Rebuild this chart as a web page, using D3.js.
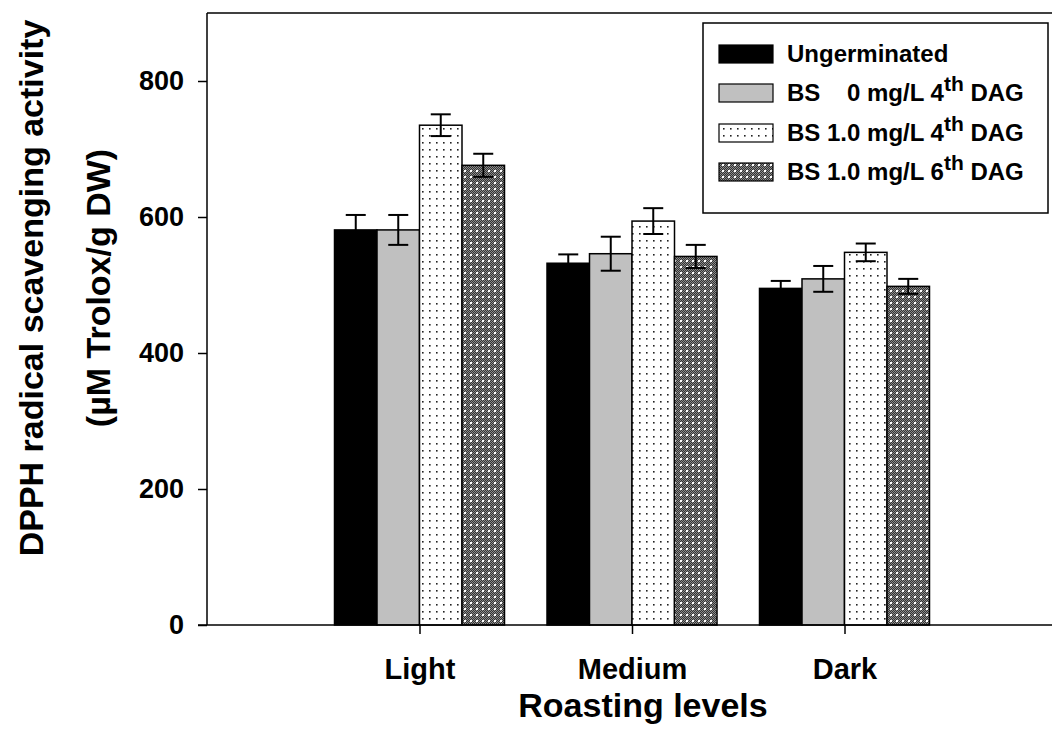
<!DOCTYPE html>
<html>
<head>
<meta charset="utf-8">
<script src="https://cdn.jsdelivr.net/npm/d3@7"></script>
<style>
  html, body { margin: 0; padding: 0; background: #fff; }
  svg { display: block; font-family: "Liberation Sans", Arial, sans-serif; font-weight: bold; }
</style>
</head>
<body>
<svg id="chart" width="1052" height="747"></svg>
<script>
// Roasting levels on the x axis
const categories = ["Light", "Medium", "Dark"];
// Treatments (one bar per treatment in each group)
const seriesNames = ["Ungerminated", "BS0_4", "BS1_4", "BS1_6"];
// Mean DPPH scavenging activity (µM Trolox/g DW), per roasting level
const ungerminated = [581, 532, 495];
const bs0day4 = [581, 546, 509];
const bs1day4 = [735, 594, 548];
const bs1day6 = [676, 542, 498];
// Standard deviations
const errUngerminated = [22, 13, 11];
const errBs0day4 = [22, 25, 19];
const errBs1day4 = [16, 19, 13];
const errBs1day6 = [17, 17, 11];
// Y axis ticks
const yTicks = [0, 200, 400, 600, 800];

const values = [ungerminated, bs0day4, bs1day4, bs1day6];
const errors = [errUngerminated, errBs0day4, errBs1day4, errBs1day6];

const svg = d3.select("#chart");
const mLeft = 207, mTop = 13, mBottom = 625, mRight = 1057;

const y = d3.scaleLinear().domain([0, 900]).range([mBottom, mTop]);
// Groups sit at positions 1..3 on a 0..4 axis
const x = d3.scaleLinear().domain([0, 4]).range([mLeft, mRight]);
const barW = 42.5;
const inner = d3.scaleBand().domain(seriesNames).range([-2 * barW, 2 * barW]).padding(0);

// Fill patterns
const defs = svg.append("defs");
const dots = defs.append("pattern").attr("id", "dots")
  .attr("patternUnits", "userSpaceOnUse").attr("width", 7).attr("height", 14);
dots.append("rect").attr("width", 7).attr("height", 14).attr("fill", "#fff");
dots.append("rect").attr("x", 2).attr("y", 2).attr("width", 1.6).attr("height", 1.6).attr("fill", "#222");
dots.append("rect").attr("x", 2).attr("y", 9).attr("width", 1.6).attr("height", 1.6).attr("fill", "#222");

const hatch = defs.append("pattern").attr("id", "hatch")
  .attr("patternUnits", "userSpaceOnUse").attr("width", 6).attr("height", 6);
hatch.append("rect").attr("width", 6).attr("height", 6).attr("fill", "#333");
for (let i = 0; i < 6; i++) {
  for (let j = 0; j < 6; j++) {
    if ((i + j) % 2 === 0) {
      hatch.append("rect").attr("x", i).attr("y", j).attr("width", 1).attr("height", 1).attr("fill", "#8c8c8c");
    }
  }
}
hatch.append("rect").attr("x", 2).attr("y", 2).attr("width", 2).attr("height", 2).attr("fill", "#fff");

const fills = ["#000", "#c0c0c0", "url(#dots)", "url(#hatch)"];

// Frame: top line
svg.append("line").attr("x1", mLeft).attr("x2", 1052).attr("y1", mTop).attr("y2", mTop)
  .attr("stroke", "#000").attr("stroke-width", 1.5);

// Bars
const bars = [];
categories.forEach((c, ci) => {
  seriesNames.forEach((s, si) => {
    bars.push({ ci, si, v: values[si][ci], e: errors[si][ci] });
  });
});

const g = svg.append("g");
g.selectAll("rect.bar").data(bars).enter().append("rect")
  .attr("class", "bar")
  .attr("x", d => x(d.ci + 1) + inner(seriesNames[d.si]))
  .attr("width", inner.bandwidth())
  .attr("y", d => y(d.v))
  .attr("height", d => y(0) - y(d.v))
  .attr("fill", d => fills[d.si])
  .attr("stroke", "#000").attr("stroke-width", 1.5);

// Error bars
const eb = g.selectAll("g.err").data(bars).enter().append("g").attr("class", "err")
  .attr("stroke", "#000").attr("stroke-width", 2);
const cx = d => x(d.ci + 1) + inner(seriesNames[d.si]) + inner.bandwidth() / 2;
eb.append("line").attr("x1", cx).attr("x2", cx)
  .attr("y1", d => y(d.v + d.e)).attr("y2", d => y(d.v - d.e));
eb.append("line").attr("x1", d => cx(d) - 10).attr("x2", d => cx(d) + 10)
  .attr("y1", d => y(d.v + d.e)).attr("y2", d => y(d.v + d.e));
eb.append("line").attr("x1", d => cx(d) - 10).attr("x2", d => cx(d) + 10)
  .attr("y1", d => y(d.v - d.e)).attr("y2", d => y(d.v - d.e));

// Y axis
const yAxis = svg.append("g").attr("transform", `translate(${mLeft},0)`)
  .call(d3.axisLeft(y).tickValues(yTicks).tickSize(9).tickPadding(14).tickSizeOuter(0));
yAxis.select(".domain").attr("stroke-width", 1.5).attr("d", `M0,${mTop}V${mBottom}`);
yAxis.selectAll(".tick line").attr("stroke-width", 1.5);
yAxis.selectAll(".tick text").attr("font-size", 27).attr("font-weight", "bold")
  .attr("font-family", "Liberation Sans, Arial, sans-serif").attr("fill", "#000");

// X axis
const xAxis = svg.append("g").attr("transform", `translate(0,${mBottom})`)
  .call(d3.axisBottom(x).tickValues([1, 2, 3]).tickFormat(d => categories[d - 1])
    .tickSize(9).tickPadding(24).tickSizeOuter(0));
xAxis.select(".domain").attr("stroke-width", 1.5).attr("d", `M${mLeft - 9},0H1052`);
xAxis.selectAll(".tick line").attr("stroke-width", 1.5);
xAxis.selectAll(".tick text").attr("font-size", 29).attr("font-weight", "bold")
  .attr("font-family", "Liberation Sans, Arial, sans-serif").attr("fill", "#000");

// Axis titles
svg.append("text").attr("x", 643).attr("y", 717).attr("text-anchor", "middle")
  .attr("font-size", 34).text("Roasting levels");
svg.append("text").attr("transform", "translate(43,288) rotate(-90)").attr("text-anchor", "middle")
  .attr("font-size", 34).text("DPPH radical scavenging activity");
svg.append("text").attr("transform", "translate(110,288) rotate(-90)").attr("text-anchor", "middle")
  .attr("font-size", 34).text("(\u00B5M Trolox/g DW)");

// Legend
const legend = svg.append("g");
legend.append("rect").attr("x", 703).attr("y", 23).attr("width", 345).attr("height", 190)
  .attr("fill", "#fff").attr("stroke", "#000").attr("stroke-width", 1.5);
const legendLabels = [
  { main: "Ungerminated" },
  { pre: "BS    0 mg/L 4", sup: "th", post: " DAG" },
  { pre: "BS 1.0 mg/L 4", sup: "th", post: " DAG" },
  { pre: "BS 1.0 mg/L 6", sup: "th", post: " DAG" }
];
const rowY = [54, 93, 133, 172];
legendLabels.forEach((lab, i) => {
  legend.append("rect").attr("x", 719).attr("y", rowY[i] - 9).attr("width", 54).attr("height", 18)
    .attr("fill", fills[i]).attr("stroke", "#000").attr("stroke-width", 1.2);
  const t = legend.append("text").attr("x", 787).attr("y", rowY[i] + 8)
    .attr("font-size", 24).attr("xml:space", "preserve").style("white-space", "pre");
  if (lab.main) {
    t.text(lab.main);
  } else {
    t.append("tspan").text(lab.pre);
    t.append("tspan").attr("dy", -10).attr("font-size", 21).text(lab.sup);
    t.append("tspan").attr("dy", 10).text(lab.post);
  }
});
</script>
</body>
</html>
